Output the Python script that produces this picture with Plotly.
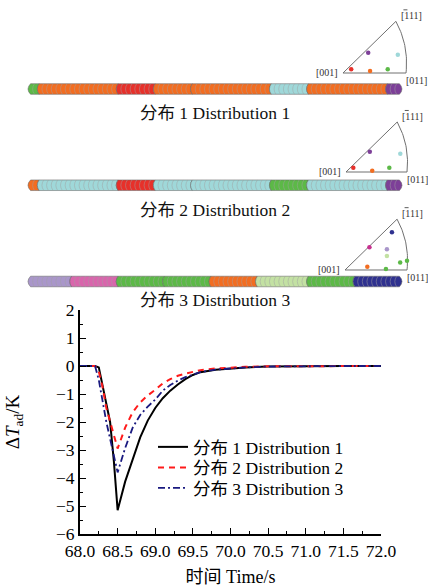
import numpy as np
import plotly.graph_objects as go

W, H = 428, 587
FONT = "Liberation Serif, Times New Roman, Noto Sans CJK SC, serif"

# ---------------- curve data ----------------
time_s = [68.0, 68.2, 68.25, 68.3, 68.35, 68.4, 68.45, 68.5, 68.6, 68.7, 68.8, 68.9,
          69.0, 69.1, 69.2, 69.3, 69.4, 69.5, 69.6, 69.8, 70.0, 70.2, 70.5, 71.0, 71.5, 72.0]
dT_dist1 = [0, 0, -0.05, -0.7, -1.35, -2.0, -3.4, -5.15, -4.13, -3.3, -2.55, -1.95,
            -1.5, -1.15, -0.88, -0.66, -0.47, -0.32, -0.22, -0.13, -0.08, -0.05, -0.02, 0, 0, 0]
dT_dist2 = [0, 0, -0.2, -0.75, -1.5, -2.0, -2.55, -2.95, -2.2, -1.65, -1.3, -1.05,
            -0.85, -0.62, -0.47, -0.35, -0.27, -0.2, -0.15, -0.09, -0.05, -0.03, -0.01, 0, 0, 0]
dT_dist3 = [0, 0, -0.5, -1.25, -2.0, -2.6, -3.2, -3.8, -2.93, -2.2, -1.75, -1.45,
            -1.2, -0.88, -0.68, -0.52, -0.4, -0.3, -0.22, -0.13, -0.08, -0.05, -0.02, 0, 0, 0]
series_names = ["分布 1 Distribution 1", "分布 2 Distribution 2", "分布 3 Distribution 3"]

x_tickvals = [68.0, 68.5, 69.0, 69.5, 70.0, 70.5, 71.0, 71.5, 72.0]
x_ticktext = ["68.0", "68.5", "69.0", "69.5", "70.0", "70.5", "71.0", "71.5", "72.0"]
y_tickvals = [2, 1, 0, -1, -2, -3, -4, -5, -6]

# ---------------- grain bars ----------------
GREEN = "#5cb947"; ORANGE = "#f26d21"; RED = "#e7302a"; CYAN = "#9fd8d9"
PURPLE = "#7d3f98"; LAVENDER = "#a996ca"; PINK = "#d965ac"; LIGHTGREEN = "#c3e1a3"
NAVY = "#2f318f"; MAGENTA = "#c7308f"

seg_counts = [[2, 17, 8, 8, 17, 8, 17, 3],
              [2, 17, 8, 8, 17, 8, 17, 3],
              [9, 10, 10, 10, 10, 11, 10, 10]]
seg_colors = [[GREEN, ORANGE, RED, ORANGE, ORANGE, CYAN, ORANGE, PURPLE],
              [ORANGE, CYAN, RED, CYAN, CYAN, GREEN, CYAN, PURPLE],
              [LAVENDER, PINK, GREEN, GREEN, ORANGE, LIGHTGREEN, GREEN, NAVY]]
dist_titles = ["分布 1 Distribution 1", "分布 2 Distribution 2", "分布 3 Distribution 3"]

# ---------------- inverse pole figures ----------------
ipf_x = [[0.13, 0.43, 0.71, 0.40, 0.87],
         [0.12, 0.43, 0.71, 0.39, 0.89],
         [0.757, 0.394, 0.676, 0.676, 0.89, 1.0, 0.36, 0.66]]
ipf_y = [[0.06, 0.03, 0.06, 0.32, 0.29],
         [0.07, 0.02, 0.07, 0.33, 0.30],
         [0.61, 0.368, 0.335, 0.227, 0.12, 0.15, 0.054, 0.015]]
ipf_colors = [[RED, ORANGE, GREEN, PURPLE, CYAN],
              [RED, ORANGE, GREEN, PURPLE, CYAN],
              [NAVY, MAGENTA, LAVENDER, LIGHTGREEN, GREEN, GREEN, ORANGE, GREEN]]
ipf_vertex_x = [0.0, 1.0, 0.84]
ipf_vertex_y = [0.0, 0.0, 0.82]
ipf_labels = ["[001]", "[011]", "[111]"]


def fx(px):
    return px / W


def fy(py):
    return 1 - py / H


fig = go.Figure()

# ---- main curves (each in its own single-item legend) ----
fig.add_trace(go.Scatter(x=time_s, y=dT_dist1, mode="lines", name=series_names[0],
                         line=dict(color="black", width=2), legend="legend"))
fig.add_trace(go.Scatter(x=time_s, y=dT_dist2, mode="lines", name=series_names[1],
                         line=dict(color="#ff1a1a", width=2, dash="6px,5px"), legend="legend2"))
fig.add_trace(go.Scatter(x=time_s, y=dT_dist3, mode="lines", name=series_names[2],
                         line=dict(color="#1a1a80", width=1.8, dash="7px,3px,2px,3px"), legend="legend3"))

# ---- grain bars (axis x2/y2) ----
A_ARC = 0.4      # depth of grain-boundary arcs (grain units)
C_CAP = 0.55     # depth of the rounded ends
HALF_H = 0.055   # half bar height in row units
PAD = 0.4
bar_px0, bar_px1 = 28, 402
n_grains = sum(seg_counts[0])
total_units = n_grains + C_CAP
ppu = (bar_px1 - bar_px0) / total_units
bar_center_px = [89, 185.25, 281.5]
row_ppu = bar_center_px[1] - bar_center_px[0]
y2_top_px, y2_bot_px = 60, 300


def y2val(py):
    return 1 + (py - bar_center_px[0]) / row_ppu


shapes = []
for k, (counts, cols) in enumerate(zip(seg_counts, seg_colors), start=1):
    top, bot = k - HALF_H, k + HALF_H
    s = 0
    for cnt, col in zip(counts, cols):
        e = s + cnt
        aL = C_CAP if s == 0 else A_ARC
        path = f"M{s + aL},{bot} Q{s - aL},{k} {s + aL},{top} "
        if e == n_grains:
            path += f"L{e},{top} Q{e + 2 * C_CAP},{k} {e},{bot} Z"
        else:
            path += f"L{e + A_ARC},{top} Q{e - A_ARC},{k} {e + A_ARC},{bot} Z"
        shapes.append(dict(type="path", xref="x2", yref="y2", path=path, fillcolor=col,
                           line=dict(color="rgba(105,105,105,0.8)", width=0.7), layer="above"))
        for j in range(1, cnt):
            b = s + j
            shapes.append(dict(type="path", xref="x2", yref="y2",
                               path=f"M{b + A_ARC},{top} Q{b - A_ARC},{k} {b + A_ARC},{bot}",
                               fillcolor="rgba(0,0,0,0)",
                               line=dict(color="rgba(160,160,160,0.8)", width=0.6), layer="above"))
        s = e

fig.add_trace(go.Scatter(x=[0], y=[1], xaxis="x2", yaxis="y2", mode="markers",
                         marker=dict(opacity=0), showlegend=False, hoverinfo="skip"))

annotations = []
title_px = [113, 210, 300]
for k, t in enumerate(dist_titles):
    annotations.append(dict(text=t, x=fx(215), y=fy(title_px[k]), xref="paper", yref="paper",
                            xanchor="center", yanchor="middle", showarrow=False,
                            font=dict(family=FONT, size=17.5, color="#111")))

# ---- IPF triangles ----
tri_origin = [(343, 73, 63), (346, 172, 61), (345, 270, 62)]
xr = [-0.15, 1.15]
yr = [-0.15, 1.08]

p_top = np.array([ipf_vertex_x[2], ipf_vertex_y[2]])
p_011 = np.array([ipf_vertex_x[1], ipf_vertex_y[1]])
mid = (p_top + p_011) / 2
d = p_011 - p_top
nrm = np.array([-d[1], d[0]]) / np.hypot(*d)
if nrm[0] < 0:
    nrm = -nrm
ctrl = mid + nrm * 0.13
tt = np.linspace(0, 1, 30)[:, None]
arc = (1 - tt) ** 2 * p_top + 2 * (1 - tt) * tt * ctrl + tt ** 2 * p_011
outline_x = [ipf_vertex_x[1], ipf_vertex_x[0], ipf_vertex_x[2]] + list(arc[:, 0])
outline_y = [ipf_vertex_y[1], ipf_vertex_y[0], ipf_vertex_y[2]] + list(arc[:, 1])

layout_axes = {}
for i, (ox, oy, U) in enumerate(tri_origin):
    n = i + 3
    xa, ya = f"x{n}", f"y{n}"
    fig.add_trace(go.Scatter(x=outline_x, y=outline_y, xaxis=xa, yaxis=ya, mode="lines",
                             line=dict(color="#707070", width=1), showlegend=False,
                             hoverinfo="skip", cliponaxis=False))
    fig.add_trace(go.Scatter(x=ipf_x[i], y=ipf_y[i], xaxis=xa, yaxis=ya, mode="markers",
                             marker=dict(color=ipf_colors[i], size=4.5, line=dict(width=0)),
                             showlegend=False, hoverinfo="skip", cliponaxis=False))
    layout_axes[f"xaxis{n}"] = dict(domain=[fx(ox + U * xr[0]), min(1.0, fx(ox + U * xr[1]))],
                                    range=[xr[0], xr[0] + (min(W, ox + U * xr[1]) - (ox + U * xr[0])) / U],
                                    visible=False, anchor=ya, fixedrange=True, automargin=False)
    layout_axes[f"yaxis{n}"] = dict(domain=[fy(oy - U * yr[0]), fy(oy - U * yr[1])], range=yr,
                                    visible=False, anchor=xa, fixedrange=True, automargin=False)
    lab_font = dict(family=FONT, size=10, color="#333")
    annotations.append(dict(text=ipf_labels[0], x=ipf_vertex_x[0], y=ipf_vertex_y[0], xref=xa, yref=ya,
                            xanchor="right", yanchor="middle", xshift=-3, yshift=1,
                            showarrow=False, font=lab_font))
    annotations.append(dict(text=ipf_labels[1], x=ipf_vertex_x[1], y=ipf_vertex_y[1], xref=xa, yref=ya,
                            xanchor="left", yanchor="top", xshift=-2, yshift=0,
                            showarrow=False, font=lab_font))
    annotations.append(dict(text=ipf_labels[2], x=ipf_vertex_x[2], y=ipf_vertex_y[2], xref=xa, yref=ya,
                            xanchor="left", yanchor="bottom", xshift=3, yshift=-2,
                            showarrow=False, font=lab_font))
    # overbar on the first "1" of [-111]
    shapes.append(dict(type="line", xref=xa, yref=ya, xsizemode="pixel", ysizemode="pixel",
                       xanchor=ipf_vertex_x[2], yanchor=ipf_vertex_y[2],
                       x0=7.5, x1=11.5, y0=11.5, y1=11.5, line=dict(color="#333", width=0.8)))

axis_font = dict(family=FONT, size=17.5, color="black")
legend_common = dict(xanchor="left", yanchor="middle", bgcolor="rgba(0,0,0,0)",
                     font=dict(family=FONT, size=17.5, color="black"), x=fx(153))
fig.update_layout(
    template="none",
    width=W, height=H, autosize=False,
    margin=dict(l=0, r=0, t=0, b=0, autoexpand=False),
    paper_bgcolor="white", plot_bgcolor="rgba(0,0,0,0)",
    font=dict(family=FONT, size=16, color="black"),
    xaxis=dict(domain=[fx(80), fx(381)], range=[68, 72], tickvals=x_tickvals, ticktext=x_ticktext,
               ticks="inside", ticklen=6, tickwidth=1.2, tickcolor="black",
               minor=dict(dtick=0.25, tick0=68, ticks="inside", ticklen=3, tickwidth=1.2, tickcolor="black"),
               showline=True, linecolor="black", linewidth=1.8, showgrid=False, zeroline=False,
               tickfont=axis_font, anchor="y", automargin=False,
               title=dict(text="时间 Time/s", font=dict(family=FONT, size=18), standoff=15)),
    yaxis=dict(domain=[fy(534), fy(310)], range=[-6, 2], tickvals=y_tickvals,
               ticks="inside", ticklen=6, tickwidth=1.2, tickcolor="black",
               minor=dict(dtick=0.5, tick0=0, ticks="inside", ticklen=3, tickwidth=1.2, tickcolor="black"),
               showline=True, linecolor="black", linewidth=1.8, showgrid=False, zeroline=False,
               tickfont=axis_font, anchor="x", automargin=False,
               title=dict(text="Δ<i>T</i><sub>ad</sub>/K", font=dict(family=FONT, size=19), standoff=31)),
    xaxis2=dict(domain=[fx(bar_px0 - PAD * ppu), fx(bar_px1 + PAD * ppu)],
                range=[-PAD, total_units + PAD], visible=False, anchor="y2", fixedrange=True,
                automargin=False),
    yaxis2=dict(domain=[fy(y2_bot_px), fy(y2_top_px)], range=[y2val(y2_bot_px), y2val(y2_top_px)],
                visible=False, anchor="x2", fixedrange=True, automargin=False),
    legend=dict(y=fy(447), **legend_common),
    legend2=dict(y=fy(467.5), **legend_common),
    legend3=dict(y=fy(488), **legend_common),
    shapes=shapes,
    annotations=annotations,
    showlegend=True,
    **layout_axes,
)

fig.write_html("out.html",
               post_script="document.body.style.margin='0';document.body.style.overflow='hidden';")
